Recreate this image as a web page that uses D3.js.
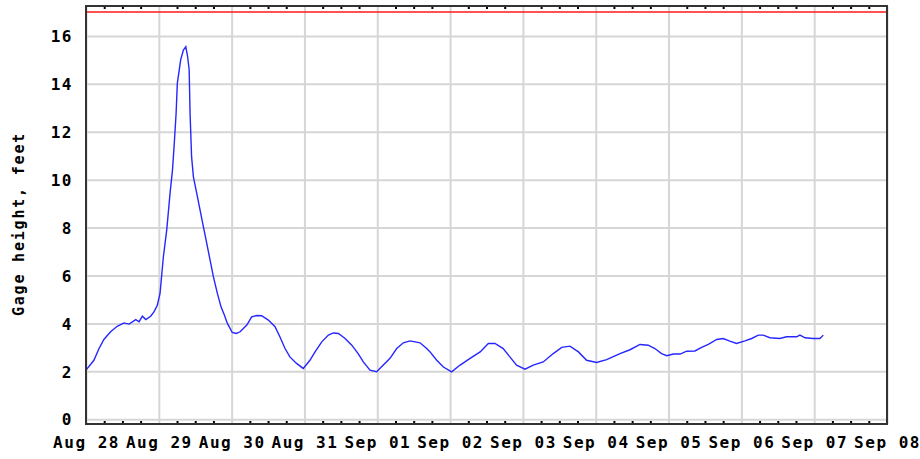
<!DOCTYPE html>
<html>
<head>
<meta charset="utf-8">
<script src="https://cdn.jsdelivr.net/npm/d3@7"></script>
<style>
  body { margin: 0; background: #fff; }
  .chart text { font-family: "DejaVu Sans Mono", monospace; font-weight: bold; fill: #000; }
  .domain { display: none; }
</style>
</head>
<body>
<div class="chart"></div>
<script>
  // data: hours since Aug 28 00:00 and gage height in feet
  var hours = [0.2, 2.6, 4.3, 5.9, 8.1, 10.3, 12.5, 14.2, 16.4, 17.5, 18.6, 19.7, 21.3, 22.4, 23.5,
    24.4, 25.5, 26.6, 27.7, 28.5, 29.1, 29.7, 30.1, 31.2, 32.1, 32.9, 33.5, 34.0, 34.3, 34.8,
    35.4, 36.5, 37.6, 38.7, 39.8, 40.9, 42.0, 43.3, 44.5, 45.6, 46.6, 48.2, 49.5, 50.8, 53.0,
    54.6, 56.3, 57.9, 60.1, 62.3, 63.9, 65.6, 67.2, 69.4, 71.6, 73.8, 75.5, 77.7, 79.9, 81.5,
    83.2, 85.4, 87.6, 89.7, 91.4, 93.6, 95.8, 98.0, 100.2, 102.4, 104.6, 106.8, 110.1, 112.3,
    113.4, 115.6, 117.8, 120.5, 123.3, 126.6, 129.9, 132.6, 134.8, 137.5, 139.7, 141.9, 144.7,
    147.4, 150.7, 154.0, 156.8, 159.5, 162.3, 165.0, 168.3, 171.6, 176.0, 179.3, 182.6, 185.3,
    187.5, 189.7, 191.4, 193.6, 195.8, 198.0, 200.7, 202.9, 205.1, 207.9, 210.0, 212.2, 214.4,
    217.2, 219.4, 221.6, 223.2, 225.4, 228.7, 230.9, 234.2, 235.3, 237.0, 239.7, 241.9, 243.0];
  var gage = [2.08, 2.46, 2.95, 3.33, 3.65, 3.88, 4.02, 3.97, 4.16, 4.07, 4.30, 4.16, 4.30, 4.48, 4.76,
    5.25, 6.78, 7.89, 9.43, 10.4, 11.52, 12.77, 14.02, 15.0, 15.41, 15.55, 15.13, 14.58, 12.77, 10.96,
    10.12, 9.43, 8.73, 8.03, 7.34, 6.64, 5.94, 5.25, 4.69, 4.35, 4.0, 3.62, 3.58, 3.65, 3.93,
    4.27, 4.33, 4.32, 4.14, 3.86, 3.44, 2.95, 2.60, 2.33, 2.12, 2.46, 2.81, 3.23, 3.51, 3.60,
    3.58, 3.37, 3.09, 2.74, 2.39, 2.05, 1.98, 2.26, 2.54, 2.95, 3.19, 3.27, 3.19, 2.95,
    2.81, 2.46, 2.18, 1.98, 2.26, 2.54, 2.81, 3.16, 3.16, 2.95, 2.60, 2.26, 2.09,
    2.26, 2.39, 2.74, 3.0, 3.05, 2.81, 2.46, 2.37, 2.49, 2.74, 2.90, 3.12, 3.09,
    2.95, 2.74, 2.65, 2.72, 2.72, 2.84, 2.85, 3.0, 3.12, 3.33, 3.37, 3.26, 3.16,
    3.27, 3.37, 3.51, 3.51, 3.40, 3.37, 3.44, 3.44, 3.51, 3.40, 3.37, 3.37, 3.51];
  var yTicks = [0, 2, 4, 6, 8, 10, 12, 14, 16];
  var floodStage = 17;
  var startDate = new Date(Date.UTC(2011, 7, 28));
  var endDate = new Date(Date.UTC(2011, 8, 8));

  var margin = {top: 6, right: 33, bottom: 35, left: 86};
  var width = 920 - margin.left - margin.right;
  var height = 459 - margin.top - margin.bottom;

  var data = hours.map(function(h, i) {
    return {date: d3.utcMinute.offset(startDate, Math.round(h * 60)), value: gage[i]};
  });

  var x = d3.scaleUtc()
    .domain([startDate, endDate])
    .range([0, width]);
  var y = d3.scaleLinear()
    .domain([-0.2, 17.25])
    .range([height, 0]);

  var svg = d3.select(".chart")
    .append("svg")
    .attr("width", 920)
    .attr("height", 459);
  var chart = svg.append("g")
    .attr("transform", "translate(" + margin.left + "," + margin.top + ")");

  var days = d3.utcDay.range(startDate, d3.utcDay.offset(endDate, 1));

  // grid
  chart.append("g")
    .call(d3.axisLeft(y).tickValues(yTicks).tickSize(-width).tickFormat(""))
    .selectAll("line")
    .attr("stroke", "#d6d6d6")
    .attr("stroke-width", 2);
  chart.append("g")
    .attr("transform", "translate(0," + height + ")")
    .call(d3.axisBottom(x).tickValues(days).tickSize(-height).tickFormat(""))
    .selectAll("line")
    .attr("stroke", "#d6d6d6")
    .attr("stroke-width", 2);

  // 6-hour minor ticks, top and bottom
  var minor = d3.utcHour.every(6).range(startDate, endDate).filter(function(d) {
    return d.getUTCHours() != 0;
  });
  chart.append("g")
    .attr("transform", "translate(0," + height + ")")
    .call(d3.axisTop(x).tickValues(minor).tickSize(3).tickFormat(""))
    .selectAll("line")
    .attr("stroke", "#000")
    .attr("stroke-width", 2);
  chart.append("g")
    .call(d3.axisBottom(x).tickValues(minor).tickSize(3).tickFormat(""))
    .selectAll("line")
    .attr("stroke", "#000")
    .attr("stroke-width", 2);

  // flood line
  chart.append("line")
    .attr("x1", 0)
    .attr("x2", width)
    .attr("y1", y(floodStage))
    .attr("y2", y(floodStage))
    .attr("stroke", "#ff1a1a")
    .attr("stroke-width", 1.5);

  // series
  var line = d3.line()
    .x(function(d) { return x(d.date); })
    .y(function(d) { return y(d.value); });
  chart.append("path")
    .datum(data)
    .attr("fill", "none")
    .attr("stroke", "#2626ff")
    .attr("stroke-width", 1.4)
    .attr("d", line);

  // frame
  chart.append("rect")
    .attr("width", width)
    .attr("height", height)
    .attr("fill", "none")
    .attr("stroke", "#333")
    .attr("stroke-width", 2);

  // y labels
  var yAxis = chart.append("g")
    .call(d3.axisLeft(y).tickValues(yTicks).tickSize(0).tickPadding(13));
  yAxis.selectAll("text")
    .style("font-size", "16px")
    .style("letter-spacing", "1.5px")
    .attr("dy", "0.36em");

  // x labels
  var xAxis = chart.append("g")
    .attr("transform", "translate(0," + height + ")")
    .call(d3.axisBottom(x).tickValues(days).tickSize(0).tickPadding(18)
      .tickFormat(d3.utcFormat("%b %d")));
  xAxis.selectAll("text")
    .style("font-size", "16px")
    .style("letter-spacing", "1.5px")
    .attr("dy", "0.35em");

  // y label
  svg.append("text")
    .attr("transform", "translate(24,224) rotate(-90)")
    .attr("text-anchor", "middle")
    .style("font-size", "15px")
    .style("letter-spacing", "1.8px")
    .text("Gage height, feet");
</script>
</body>
</html>
